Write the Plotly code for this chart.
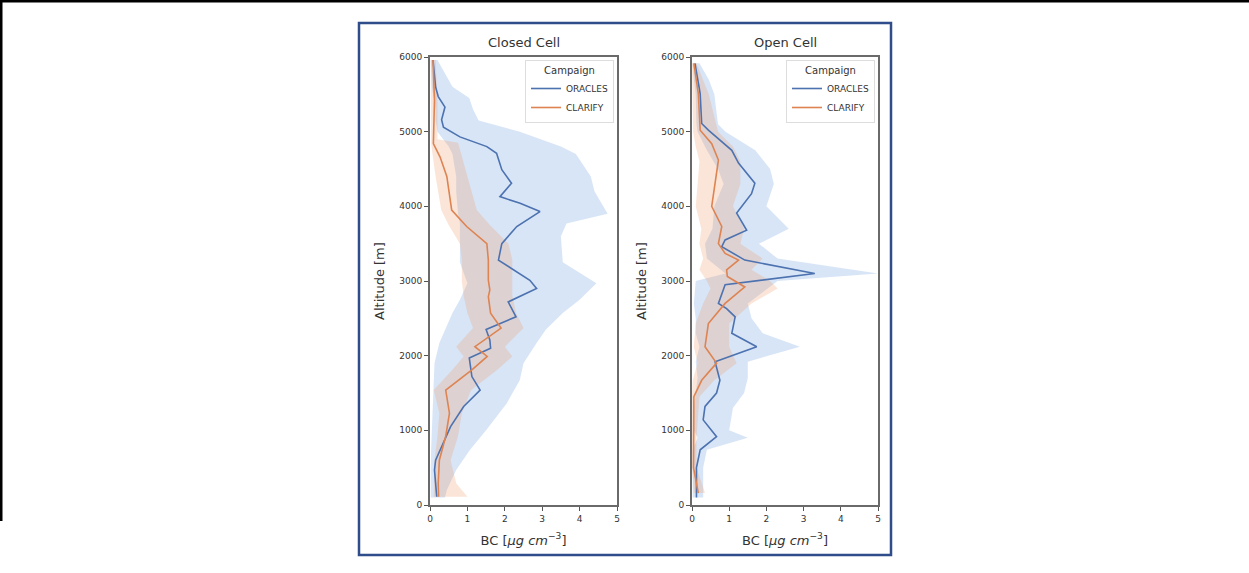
import plotly.graph_objects as go

W, H = 1249, 573

# ---------------- data ----------------
# Closed cell, ORACLES
cc_or_alt = [5960, 5600, 5470, 5330, 5160, 5060, 4930, 4800, 4710, 4490, 4310, 4130, 4040, 3930, 3730, 3500,
             3280, 3150, 3010, 2900, 2720, 2520, 2350, 2210, 2100, 1970, 1720, 1540, 1320, 1050, 800, 600, 470, 300, 110]
cc_or_bc = [0.08, 0.15, 0.22, 0.40, 0.31, 0.36, 0.80, 1.52, 1.78, 1.92, 2.18, 1.87, 2.41, 2.94, 2.32, 1.92,
            1.83, 2.23, 2.67, 2.85, 2.09, 2.30, 1.50, 1.60, 1.62, 1.05, 1.12, 1.34, 0.90, 0.55, 0.32, 0.15, 0.12, 0.15, 0.18]
cc_or_band_alt = [5960, 5600, 5450, 5300, 5150, 5000, 4800, 4700, 4400, 4200, 3900, 3770, 3600, 3250, 2970, 2750,
                  2570, 2350, 2170, 1900, 1670, 1360, 1000, 740, 470, 200, 100]
cc_or_lo = [0.02, 0.05, 0.10, 0.15, 0.15, 0.20, 0.50, 0.60, 0.70, 0.70, 0.75, 0.80, 0.80, 0.80, 1.00, 0.80,
            0.60, 0.40, 0.25, 0.12, 0.10, 0.08, 0.05, 0.03, 0.02, 0.02, 0.02]
cc_or_hi = [0.20, 0.60, 1.05, 1.15, 1.30, 2.40, 3.50, 3.90, 4.30, 4.40, 4.75, 3.65, 3.50, 3.55, 4.45, 4.00,
            3.55, 3.10, 2.85, 2.50, 2.40, 2.05, 1.50, 1.07, 0.70, 0.45, 0.40]

# Closed cell, CLARIFY
cc_cl_alt = [5960, 5420, 4840, 4660, 4400, 3950, 3730, 3500, 3280, 3010, 2880, 2790, 2570, 2370, 2120, 1990,
             1810, 1540, 1230, 920, 600, 290, 110]
cc_cl_bc = [0.08, 0.12, 0.09, 0.27, 0.45, 0.58, 0.98, 1.52, 1.56, 1.56, 1.60, 1.56, 1.62, 1.90, 1.20, 1.53,
            1.12, 0.42, 0.52, 0.42, 0.25, 0.22, 0.23]
cc_cl_band_alt = [5960, 5400, 4900, 4850, 4650, 4400, 3950, 3750, 3500, 3280, 3000, 2800, 2570, 2370, 2120, 1990,
                  1810, 1540, 1230, 920, 600, 290, 110]
cc_cl_lo = [0.02, 0.03, 0.03, 0.03, 0.08, 0.15, 0.30, 0.50, 0.80, 0.85, 0.85, 0.90, 1.00, 1.15, 0.70, 0.90,
            0.60, 0.10, 0.25, 0.20, 0.12, 0.10, 0.10]
cc_cl_hi = [0.15, 0.20, 0.20, 0.75, 0.85, 1.00, 1.25, 1.60, 2.10, 2.20, 2.20, 2.20, 2.30, 2.50, 2.00, 2.20,
            1.80, 1.10, 0.85, 0.75, 0.55, 0.70, 1.00]

# Open cell, ORACLES
oc_or_alt = [5915, 5510, 5110, 5020, 4750, 4580, 4310, 4170, 3910, 3680, 3550, 3460, 3280, 3100, 2950, 2700,
             2630, 2520, 2300, 2120, 1920, 1670, 1500, 1320, 1140, 915, 740, 500, 250, 100]
oc_or_bc = [0.08, 0.22, 0.26, 0.44, 1.07, 1.25, 1.69, 1.60, 1.20, 1.47, 0.89, 0.80, 1.42, 3.30, 0.89, 0.71,
            0.93, 1.16, 1.07, 1.74, 0.62, 0.75, 0.66, 0.35, 0.30, 0.66, 0.22, 0.12, 0.12, 0.12]
oc_or_band_alt = [5915, 5700, 5500, 5100, 5000, 4750, 4500, 4300, 4000, 3700, 3500, 3300, 3100, 3000, 2700, 2500,
                  2300, 2120, 1920, 1700, 1500, 1300, 1000, 900, 740, 500, 100]
oc_or_lo = [0.02, 0.05, 0.10, 0.12, 0.15, 0.40, 0.70, 0.85, 0.60, 0.55, 0.35, 0.40, 0.90, 0.10, 0.05, 0.10,
            0.10, 0.20, 0.10, 0.15, 0.10, 0.05, 0.05, 0.15, 0.02, 0.02, 0.02]
oc_or_hi = [0.20, 0.45, 0.60, 0.70, 0.90, 1.70, 2.10, 2.20, 2.00, 2.60, 1.80, 2.30, 5.00, 2.30, 1.50, 1.60,
            1.90, 2.90, 1.50, 1.50, 1.40, 1.10, 1.00, 1.50, 0.40, 0.30, 0.30]

# Open cell, CLARIFY
oc_cl_alt = [5915, 5510, 5020, 4840, 4620, 4310, 4000, 3730, 3500, 3370, 3280, 3150, 3060, 2920, 2700, 2430,
             2120, 1900, 1670, 1450, 915, 500, 160]
oc_cl_bc = [0.05, 0.17, 0.22, 0.53, 0.71, 0.62, 0.53, 0.80, 0.71, 0.89, 1.25, 0.93, 0.95, 1.42, 0.89, 0.44,
            0.35, 0.66, 0.26, 0.05, 0.04, 0.04, 0.17]
oc_cl_band_alt = [5915, 5500, 5000, 4800, 4600, 4300, 4000, 3700, 3500, 3300, 3150, 3000, 2900, 2700, 2430, 2120,
                  1900, 1670, 1450, 900, 500, 160]
oc_cl_lo = [0.00, 0.02, 0.03, 0.10, 0.20, 0.15, 0.10, 0.25, 0.20, 0.30, 0.20, 0.40, 0.50, 0.30, 0.10, 0.05,
            0.15, 0.02, 0.00, 0.00, 0.00, 0.05]
oc_cl_hi = [0.12, 0.45, 0.70, 1.10, 1.30, 1.30, 1.10, 1.40, 1.30, 1.90, 1.60, 2.10, 2.30, 1.60, 1.00, 1.00,
            1.20, 0.60, 0.20, 0.12, 0.12, 0.35]

x_ticks = [0, 1, 2, 3, 4, 5]
y_ticks = [0, 1000, 2000, 3000, 4000, 5000, 6000]
titles = ["Closed Cell", "Open Cell"]
series_names = ["ORACLES", "CLARIFY"]

BLUE = "#4C72B0"
ORANGE = "#DD8452"
BLUE_F = "rgba(110,160,222,0.27)"
ORANGE_F = "rgba(240,150,100,0.25)"
FONT = "DejaVu Sans"

fig = go.Figure()


def band(alt, lo, hi, fill, xa, ya):
    fig.add_trace(go.Scatter(x=list(lo) + list(hi)[::-1], y=list(alt) + list(alt)[::-1],
                             fill="toself", fillcolor=fill, line=dict(width=0), mode="lines",
                             hoverinfo="skip", showlegend=False, xaxis=xa, yaxis=ya))


def line(alt, bc, color, name, xa, ya, leg):
    fig.add_trace(go.Scatter(x=bc, y=alt, mode="lines", line=dict(color=color, width=1.6),
                             name=name, legend=leg, xaxis=xa, yaxis=ya))


band(cc_or_band_alt, cc_or_lo, cc_or_hi, BLUE_F, "x", "y")
band(cc_cl_band_alt, cc_cl_lo, cc_cl_hi, ORANGE_F, "x", "y")
line(cc_or_alt, cc_or_bc, BLUE, series_names[0], "x", "y", "legend")
line(cc_cl_alt, cc_cl_bc, ORANGE, series_names[1], "x", "y", "legend")

band(oc_or_band_alt, oc_or_lo, oc_or_hi, BLUE_F, "x2", "y2")
band(oc_cl_band_alt, oc_cl_lo, oc_cl_hi, ORANGE_F, "x2", "y2")
line(oc_or_alt, oc_or_bc, BLUE, series_names[0], "x2", "y2", "legend2")
line(oc_cl_alt, oc_cl_bc, ORANGE, series_names[1], "x2", "y2", "legend2")


def px(v):
    return v / W


def py(v):
    return 1 - v / H


axis_common = dict(showline=True, mirror=True, linecolor="#6a6a6a", linewidth=2, ticks="outside",
                   ticklen=4, tickwidth=1, tickcolor="#555", showgrid=False, zeroline=False,
                   tickfont=dict(family=FONT, size=9, color="#333"))
xtitle = dict(text="BC [<i>μg cm</i><sup>−3</sup>]", font=dict(family=FONT, size=13, color="#333"), standoff=13)
ytitle = dict(text="Altitude [m]", font=dict(family=FONT, size=13, color="#333"), standoff=12)

L0, L1 = 430, 617
R0, R1 = 692, 878
T, B = 57, 505

fig.update_layout(
    width=W, height=H, margin=dict(l=0, r=0, t=0, b=0, autoexpand=False),
    paper_bgcolor="white", plot_bgcolor="white",
    xaxis=dict(domain=[px(L0), px(L1)], range=[0, 5], tickvals=x_ticks, title=xtitle, anchor="y", **axis_common),
    yaxis=dict(domain=[py(B), py(T)], range=[0, 6000], tickvals=y_ticks, title=ytitle, anchor="x", **axis_common),
    xaxis2=dict(domain=[px(R0), px(R1)], range=[0, 5], tickvals=x_ticks, title=xtitle, anchor="y2", **axis_common),
    yaxis2=dict(domain=[py(B), py(T)], range=[0, 6000], tickvals=y_ticks, title=ytitle, anchor="x2", **axis_common),
    legend=dict(x=px(L1 - 3), y=py(T + 3), xanchor="right", yanchor="top",
                title=dict(text="Campaign", side="top center", font=dict(family=FONT, size=10, color="#333")),
                font=dict(family=FONT, size=9, color="#333"), bgcolor="rgba(255,255,255,0.8)",
                bordercolor="#dddddd", borderwidth=1, itemwidth=30, tracegroupgap=0),
    legend2=dict(x=px(R1 - 3), y=py(T + 3), xanchor="right", yanchor="top",
                 title=dict(text="Campaign", side="top center", font=dict(family=FONT, size=10, color="#333")),
                 font=dict(family=FONT, size=9, color="#333"), bgcolor="rgba(255,255,255,0.8)",
                 bordercolor="#dddddd", borderwidth=1, itemwidth=30, tracegroupgap=0),
    showlegend=True,
)

for x0, x1, t in [(L0, L1, titles[0]), (R0, R1, titles[1])]:
    fig.add_annotation(text=t, x=px((x0 + x1) / 2), y=py(43), xref="paper", yref="paper",
                       showarrow=False, font=dict(family=FONT, size=13, color="#333"),
                       xanchor="center", yanchor="middle")

# outer blue frame
fig.add_shape(type="rect", xref="paper", yref="paper", x0=px(359), x1=px(891), y0=py(555), y1=py(23),
              line=dict(color="#2f4d8a", width=2.5), fillcolor="rgba(0,0,0,0)", layer="below")
# black page border (top and left)
fig.add_shape(type="line", xref="paper", yref="paper", x0=0, x1=1, y0=py(1), y1=py(1),
              line=dict(color="black", width=3))
fig.add_shape(type="line", xref="paper", yref="paper", x0=px(1), x1=px(1), y0=py(0), y1=py(521),
              line=dict(color="black", width=3))

fig.write_html("out.html")
